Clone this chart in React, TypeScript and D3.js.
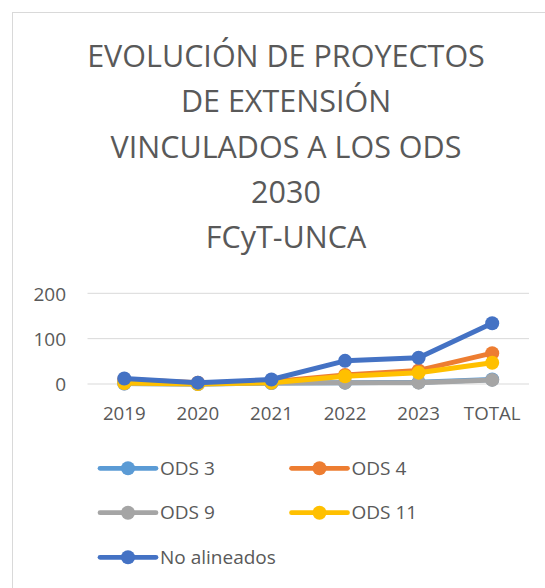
import React from "react";
import * as d3 from "d3";

const categories = ["2019", "2020", "2021", "2022", "2023", "TOTAL"];
const seriesNames = ["ODS 3", "ODS 4", "ODS 9", "ODS 11", "No alineados"];
const ods3 = [1, 0, 2, 3, 4, 10];
const ods4 = [10, 3, 5, 20, 30, 68];
const ods9 = [1, 0, 2, 3, 3, 9];
const ods11 = [2, 0, 3, 17, 25, 47];
const noAlineados = [12, 3, 10, 51, 58, 134];
const yTicks = [0, 100, 200];
const titleLines = [
  "EVOLUCIÓN DE PROYECTOS",
  "DE EXTENSIÓN",
  "VINCULADOS A LOS ODS",
  "2030",
  "FCyT-UNCA",
];
const colors = ["#5B9BD5", "#ED7D31", "#A5A5A5", "#FFC000", "#4472C4"];

const W = 545;
const H = 588;
const FONT = "'Open Sans', sans-serif";

export default function App() {
  const series = [ods3, ods4, ods9, ods11, noAlineados];
  const x = d3.scaleBand<string>().domain(categories).range([87.5, 529]);
  const y = d3.scaleLinear().domain([0, 200]).range([384, 293.3]);
  const cx = (c: string) => (x(c) as number) + x.bandwidth() / 2;
  const line = d3
    .line<number>()
    .x((_, i) => cx(categories[i]))
    .y((d) => y(d));

  const legendPos = [
    { lx: 100, ly: 468.3 },
    { lx: 291.5, ly: 468.3 },
    { lx: 100, ly: 512.7 },
    { lx: 291.5, ly: 512.7 },
    { lx: 100, ly: 557.3 },
  ];

  return (
    <svg
      width={W}
      height={H}
      style={{ position: "absolute", left: 0, top: 0, background: "#fff" }}
      fontFamily={FONT}
    >
      <rect x={0} y={0} width={W} height={H} fill="#fff" />
      <rect x={12.5} y={12.5} width={W + 20} height={H + 20} fill="#fff" stroke="#d9d9d9" strokeWidth={1} />
      {titleLines.map((t, i) => (
        <text key={i} x={286} y={66.7 + i * 45.4} textAnchor="middle" fontSize={30.5} fill="#595959">
          {t}
        </text>
      ))}
      {yTicks.map((t) => (
        <g key={t}>
          <line x1={87.5} x2={529} y1={y(t)} y2={y(t)} stroke="#d9d9d9" strokeWidth={1} />
          <text x={66} y={y(t) + 7.2} textAnchor="end" fontSize={19} fill="#595959">
            {t}
          </text>
        </g>
      ))}
      {categories.map((c) => (
        <text key={c} x={cx(c)} y={420} textAnchor="middle" fontSize={18.7} fill="#595959">
          {c}
        </text>
      ))}
      {series.map((s, si) => (
        <g key={si}>
          <path d={line(s) as string} fill="none" stroke={colors[si]} strokeWidth={5} strokeLinejoin="round" strokeLinecap="round" />
          {s.map((v, i) => (
            <circle key={i} cx={cx(categories[i])} cy={y(v)} r={7} fill={colors[si]} />
          ))}
        </g>
      ))}
      {seriesNames.map((n, i) => {
        const p = legendPos[i];
        return (
          <g key={n}>
            <line x1={p.lx} x2={p.lx + 56} y1={p.ly} y2={p.ly} stroke={colors[i]} strokeWidth={4.7} strokeLinecap="round" />
            <circle cx={p.lx + 28} cy={p.ly} r={7} fill={colors[i]} />
            <text x={p.lx + 60} y={p.ly + 6.7} fontSize={19} fill="#595959">
              {n}
            </text>
          </g>
        );
      })}
    </svg>
  );
}
